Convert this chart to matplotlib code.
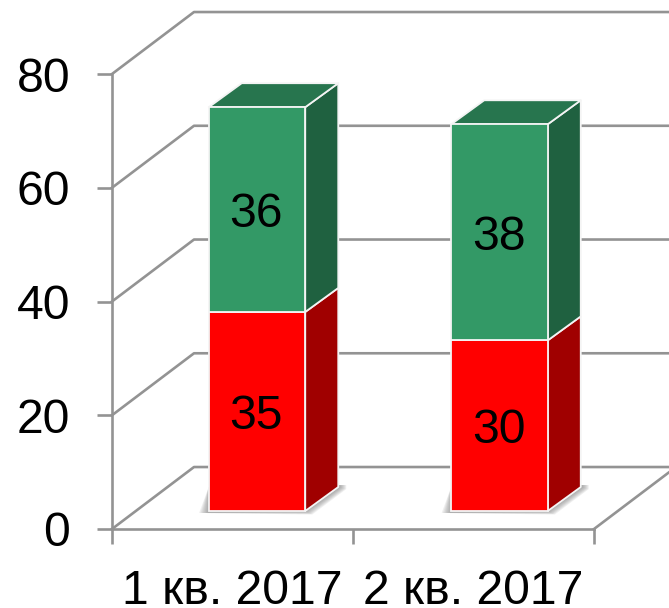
import matplotlib
matplotlib.use('Agg')
import matplotlib.pyplot as plt
from matplotlib.patches import Polygon

plt.rcParams['font.family'] = ['Liberation Sans', 'DejaVu Sans']

# Данные
categories = ['1 кв. 2017', '2 кв. 2017']
red_values = [35, 30]
green_values = [36, 38]
y_ticks = [0, 20, 40, 60, 80]

RED_FRONT, RED_SIDE = '#FF0000', '#A00000'
GREEN_FRONT, GREEN_TOP, GREEN_SIDE = '#339966', '#27754E', '#1F6140'
LINE = '#939393'
EDGE = '#F4F4F4'
FONT = 34.7

fig = plt.figure(figsize=(6.69, 6.08), dpi=100)
ax = fig.add_axes([112 / 669, (608 - 529) / 608, 482 / 669, 455 / 608])
ax.set_xlim(0, 2)
ax.set_ylim(0, 80)
ax.patch.set_alpha(0)

# Глубина стен (82 и 62 пикселя) в единицах данных
wall_dx = 82 / 241
wall_dy = 62 / 5.69
# Глубина столбца и его положение на полу
bar_width = 96.5 / 241
bar_dx = 33 / 241
bar_dy = 24 / 5.69
floor_dy = 18 / 5.69
bar_shift = 24.5 / 241
bar_step = 242.5 / 241

# Оси
for name in ['top', 'right']:
    ax.spines[name].set_visible(False)
for name in ['left', 'bottom']:
    ax.spines[name].set_color(LINE)
    ax.spines[name].set_linewidth(1.9)
ax.set_yticks(y_ticks)
ax.set_xticks([0, 1, 2])
ax.set_xticklabels([])
ax.set_xticks([0.5, 1.5], labels=categories, minor=True)
ax.tick_params(axis='both', which='major', color=LINE, width=1.9, length=10.8)
ax.tick_params(axis='y', labelsize=FONT, pad=19.3)
ax.tick_params(axis='x', which='minor', length=0, labelsize=FONT, pad=28.5)

# Сетка на стенах и пол
for t in y_ticks:
    ax.plot([0, wall_dx, 2 + wall_dx], [t, t + wall_dy, t + wall_dy], color=LINE,
            lw=1.9, clip_on=False, solid_joinstyle='round', zorder=1)
ax.plot([2, 2 + wall_dx], [0, wall_dy], color=LINE, lw=1.9, clip_on=False, zorder=1)


def face(points, color, z):
    ax.add_patch(Polygon(points, closed=True, facecolor=color, edgecolor=EDGE,
                         lw=1.3, clip_on=False, zorder=z, joinstyle='round'))


def shadow(x0, x1):
    # мягкая тень на полу справа и слева от столбца
    px = 1 / 241
    py = 1 / 5.69
    for k in range(1, 8):
        pts = [(x0 - 11 * px * (1 - k / 8), floor_dy - 2 * py),
               (x1 + k * px, floor_dy - k * 0.5 * py),
               (x1 + bar_dx + (k + 1) * px, floor_dy + bar_dy - k * 0.3 * py),
               (x1 + bar_dx + (k + 1) * px, floor_dy + bar_dy + 2 * py),
               (x0, floor_dy + bar_dy)]
        ax.add_patch(Polygon(pts, closed=True, facecolor='#707070', edgecolor='none',
                             alpha=0.11, clip_on=False, zorder=2))


def value_label(x, y, value):
    ax.annotate(str(value), (x, y), xytext=(-0.6, -3.6), textcoords='offset points',
                fontsize=FONT, ha='center', va='center', color='black', zorder=5)


for i, cat in enumerate(categories):
    x0 = 0.5 + bar_shift - bar_width / 2 + i * bar_step
    x1 = x0 + bar_width
    y0 = floor_dy
    y1 = y0 + red_values[i]
    y2 = y1 + green_values[i]

    shadow(x0, x1)

    # боковые грани
    face([(x1, y0), (x1 + bar_dx, y0 + bar_dy), (x1 + bar_dx, y1 + bar_dy), (x1, y1)], RED_SIDE, 3)
    face([(x1, y1), (x1 + bar_dx, y1 + bar_dy), (x1 + bar_dx, y2 + bar_dy), (x1, y2)], GREEN_SIDE, 3)
    # верх
    face([(x0, y2), (x1, y2), (x1 + bar_dx, y2 + bar_dy), (x0 + bar_dx, y2 + bar_dy)], GREEN_TOP, 3)
    # передние грани
    ax.bar(x0, red_values[i], bar_width, bottom=y0, align='edge', color=RED_FRONT,
           edgecolor=EDGE, lw=1.3, clip_on=False, zorder=4)
    ax.bar(x0, green_values[i], bar_width, bottom=y1, align='edge', color=GREEN_FRONT,
           edgecolor=EDGE, lw=1.3, clip_on=False, zorder=4)

    # подписи значений
    value_label(x0 + bar_width / 2, y0 + red_values[i] / 2, red_values[i])
    value_label(x0 + bar_width / 2, y1 + green_values[i] / 2, green_values[i])

ax.set_xlim(0, 2)
ax.set_ylim(0, 80)
fig.savefig('out.png', dpi=100)
